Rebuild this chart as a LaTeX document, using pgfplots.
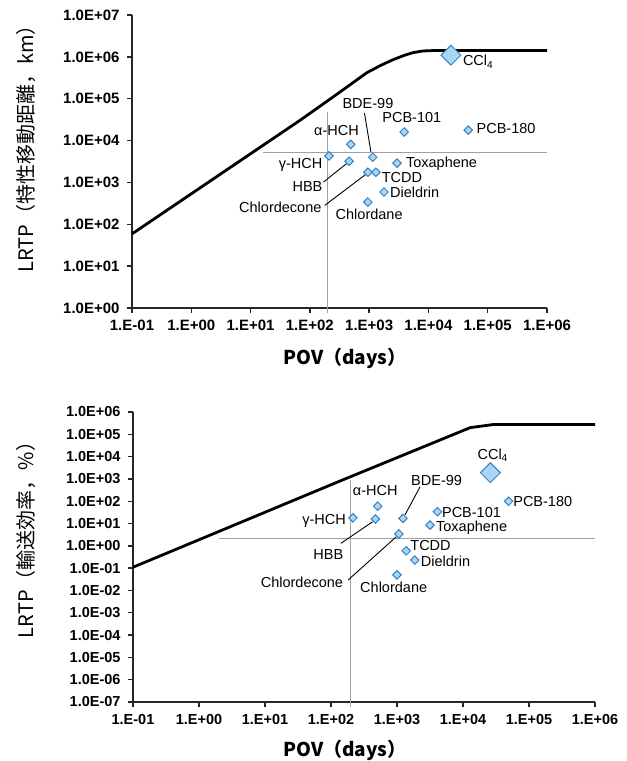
\documentclass[border=0pt]{standalone}
\usepackage{fontspec}
\setmainfont{Liberation Sans}
\newfontfamily\cjk{Noto Sans CJK JP}
\usepackage{pgfplots}
\pgfplotsset{compat=1.18}
\definecolor{dfill}{HTML}{A9D6F2}
\definecolor{dedge}{HTML}{3A80C2}
\definecolor{refgray}{HTML}{A0A0A0}
\newcommand\lab{\fontsize{14.5}{15}\selectfont}
\tikzset{
  mydia/.style={only marks, mark=square*, mark size=3pt, mark options={rotate=45, fill=dfill, draw=dedge, line width=1pt}},
  mybig/.style={only marks, mark=square*, mark size=7pt, mark options={rotate=45, fill=dfill, draw=dedge, line width=1pt}},
  mylead/.style={black, line width=0.9pt},
  myrefl/.style={refgray, line width=0.9pt},
  mycurve/.style={black, line width=2.8pt, line join=round},
  mylbl/.style={font=\lab, inner sep=0pt, yshift=-1.5pt},
}
\begin{document}
\begin{tikzpicture}[x=1pt,y=1pt]
\path[use as bounding box] (0,0) rectangle (627,761);
% ---------------- top axis ----------------
\begin{axis}[
  at={(132pt,453pt)}, anchor=south west,
  scale only axis, width=415pt, height=293pt,
  xmode=log, ymode=log,
  xmin=0.1, xmax=1e6, ymin=1, ymax=1e7,
  axis x line*=bottom, axis y line*=left,
  axis line style={line width=2pt, black!85},
  tick style={line width=1.4pt, black!85},
  major tick length=5pt, tick align=outside,
  xminorticks=false, yminorticks=false,
  xtick={0.1,1,10,100,1000,10000,100000,1000000},
  xticklabels={1.E-01,1.E+00,1.E+01,1.E+02,1.E+03,1.E+04,1.E+05,1.E+06},
  ytick={1,10,100,1000,10000,100000,1000000,10000000},
  yticklabels={1.0E+00,1.0E+01,1.0E+02,1.0E+03,1.0E+04,1.0E+05,1.0E+06,1.0E+07},
  xticklabel style={font=\bfseries\fontsize{15}{15}\selectfont, yshift=-3pt},
  yticklabel style={font=\bfseries\fontsize{15}{15}\selectfont, xshift=-4pt},
  clip=false,
]
\addplot[myrefl] coordinates {(16,5097) (1000000,5097)};
\addplot[myrefl] coordinates {(195,49000) (195,0.76)};
\addplot[mycurve] coordinates {(0.1,58.9) (67.6,30200) (245.5,109600) (912,417000) (1585,631000) (2512,851000) (3981,1096000) (5495,1259000) (7943,1380000) (12023,1413000) (1000000,1413000)};
\addplot[mylead] coordinates {(832,45700) (1072,5370)};
\addplot[mylead] coordinates {(170,1023) (417,2818)};
\addplot[mylead] coordinates {(178,282) (912,1622)};
\addplot[mydia] coordinates {(1150,4000) (3900,16000) (47000,17800) (490,8100) (210,4300) (460,3200) (2950,2900) (950,1750) (1300,1750) (1780,590) (950,340)};
\addplot[mybig] coordinates {(24000,1100000)};
\node[mylbl, anchor=mid west] at (axis cs:38000,760000) {CCl\textsubscript{4}};
\node[mylbl, anchor=mid] at (axis cs:955,74000) {BDE-99};
\node[mylbl, anchor=mid] at (axis cs:5250,33900) {PCB-101};
\node[mylbl, anchor=mid west] at (axis cs:64600,18600) {PCB-180};
\node[mylbl, anchor=mid] at (axis cs:282,16200) {α-HCH};
\node[mylbl, anchor=mid east] at (axis cs:164,2750) {γ-HCH};
\node[mylbl, anchor=mid east] at (axis cs:164,776) {HBB};
\node[mylbl, anchor=mid east] at (axis cs:158,240) {Chlordecone};
\node[mylbl, anchor=mid west] at (axis cs:4170,2820) {Toxaphene};
\node[mylbl, anchor=mid west] at (axis cs:1620,1230) {TCDD};
\node[mylbl, anchor=mid west] at (axis cs:2240,562) {Dieldrin};
\node[mylbl, anchor=mid] at (axis cs:1000,166) {Chlordane};
\end{axis}
% ---------------- bottom axis ----------------
\begin{axis}[
  at={(133pt,59pt)}, anchor=south west,
  scale only axis, width=462pt, height=290pt,
  xmode=log, ymode=log,
  xmin=0.1, xmax=1e6, ymin=1e-7, ymax=1e6,
  axis x line*=bottom, axis y line*=left,
  axis line style={line width=2pt, black!85},
  tick style={line width=1.4pt, black!85},
  major tick length=5pt, tick align=outside,
  xminorticks=false, yminorticks=false,
  xtick={0.1,1,10,100,1000,10000,100000,1000000},
  xticklabels={1.E-01,1.E+00,1.E+01,1.E+02,1.E+03,1.E+04,1.E+05,1.E+06},
  ytick={1e-7,1e-6,1e-5,1e-4,1e-3,1e-2,1e-1,1,10,100,1000,10000,100000,1000000},
  yticklabels={1.0E-07,1.0E-06,1.0E-05,1.0E-04,1.0E-03,1.0E-02,1.0E-01,1.0E+00,1.0E+01,1.0E+02,1.0E+03,1.0E+04,1.0E+05,1.0E+06},
  xticklabel style={font=\bfseries\fontsize{14.5}{15}\selectfont, yshift=-4pt},
  yticklabel style={font=\bfseries\fontsize{14.5}{15}\selectfont, xshift=-4pt},
  clip=false,
]
\addplot[myrefl] coordinates {(2,2.248) (1000000,2.248)};
\addplot[myrefl] coordinates {(195,890) (195,6e-8)};
\addplot[mycurve] coordinates {(0.1,0.11) (138,813) (12880,199500) (28840,275000) (1000000,275000)};
\addplot[mylead] coordinates {(2240,447) (1318,24)};
\addplot[mylead] coordinates {(141,1.29) (427,12)};
\addplot[mylead] coordinates {(182,0.0295) (977,2.57)};
\addplot[mydia] coordinates {(49000,100) (4100,34) (3160,8.5) (510,60) (470,16) (215,18) (1230,17) (1070,3.4) (1380,0.6) (1860,0.23) (1000,0.05)};
\addplot[mybig] coordinates {(26000,1900)};
\node[mylbl, anchor=mid] at (axis cs:28200,11750) {CCl\textsubscript{4}};
\node[mylbl, anchor=mid] at (axis cs:3980,741) {BDE-99};
\node[mylbl, anchor=mid] at (axis cs:468,269) {α-HCH};
\node[mylbl, anchor=mid west] at (axis cs:57500,89) {PCB-180};
\node[mylbl, anchor=mid west] at (axis cs:4790,28.8) {PCB-101};
\node[mylbl, anchor=mid west] at (axis cs:3890,6.76) {Toxaphene};
\node[mylbl, anchor=mid east] at (axis cs:169,14.5) {γ-HCH};
\node[mylbl, anchor=mid] at (axis cs:91,0.39) {HBB};
\node[mylbl, anchor=mid west] at (axis cs:1585,0.912) {TCDD};
\node[mylbl, anchor=mid west] at (axis cs:2290,0.174) {Dieldrin};
\node[mylbl, anchor=mid] at (axis cs:891,0.0123) {Chlordane};
\node[mylbl, anchor=mid] at (axis cs:36.3,0.0214) {Chlordecone};
\end{axis}
% ---------------- titles ----------------
\node[rotate=90, font=\cjk\fontsize{20}{20}\selectfont] at (26,617) {LRTP（特性移動距離，km）};
\node[rotate=90, font=\cjk\fontsize{20}{20}\selectfont] at (26,226) {LRTP（輸送効率，\%）};
\node[anchor=base, font=\cjk\bfseries\fontsize{19}{19}\selectfont] at (345,396) {POV（days）};
\node[anchor=base, font=\cjk\bfseries\fontsize{19}{19}\selectfont] at (345,5) {POV（days）};
\end{tikzpicture}
\end{document}
